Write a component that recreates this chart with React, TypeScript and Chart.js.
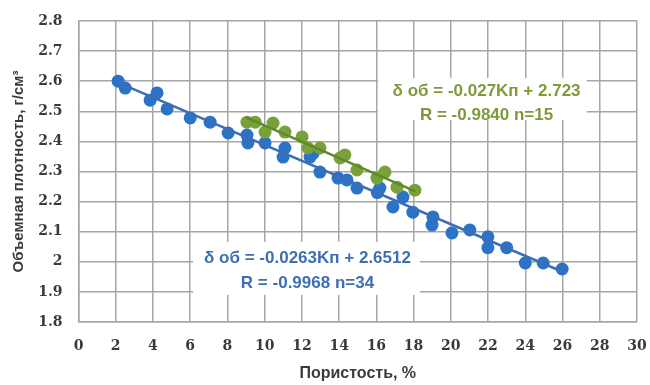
import React, { useEffect, useRef } from "react";
import { Chart, registerables } from "chart.js";

Chart.register(...registerables);

// Blue series (n=34)
const blueX = [2.13, 2.51, 3.85, 4.22, 4.76, 6.0, 7.07, 8.04, 9.05, 9.1, 10.02, 11.09, 10.99, 12.44, 12.6, 12.97, 13.94, 14.42, 14.96, 16.05, 16.19, 16.89, 17.43, 17.96, 19.04, 18.99, 20.06, 21.02, 21.99, 21.99, 23.0, 24.0, 24.96, 25.98];
const blueY = [2.60, 2.577, 2.537, 2.561, 2.508, 2.478, 2.464, 2.428, 2.421, 2.395, 2.395, 2.378, 2.348, 2.348, 2.36, 2.298, 2.278, 2.272, 2.245, 2.23, 2.245, 2.182, 2.215, 2.165, 2.149, 2.122, 2.096, 2.106, 2.083, 2.047, 2.047, 1.996, 1.996, 1.976];

// Green series (n=15)
const greenX = [9.05, 9.49, 10.02, 10.45, 11.09, 12.01, 12.33, 12.97, 14.05, 14.31, 14.96, 16.03, 16.46, 17.11, 18.07];
const greenY = [2.464, 2.464, 2.431, 2.461, 2.431, 2.415, 2.378, 2.378, 2.345, 2.355, 2.305, 2.278, 2.298, 2.248, 2.238];

// Trendline endpoints
const blueLineX = [2.1, 26.0];
const blueLineY = [2.596, 1.967];
const greenLineX = [9.0, 18.1];
const greenLineY = [2.48, 2.234];

const greenLabel = ["δ об = -0.027Kп + 2.723", "R = -0.9840 n=15"];
const blueLabel = ["δ об = -0.0263Kп + 2.6512", "R = -0.9968 n=34"];

const xTitle = "Пористость, %";
const yTitle = "Объемная плотность, г/см³";

const BLUE = "#2b73c6";
const BLUE_LINE = "#3f6db5";
const GREEN = "#79a13a";
const GREEN_LINE = "#5f8a2a";
const GREEN_TEXT = "#7f9a3c";
const BLUE_TEXT = "#3e6fb3";
const GRID = "#a6a6a6";
const TEXT = "#3a3a3a";

const zip = (xs: number[], ys: number[]) => xs.map((x, i) => ({ x, y: ys[i] }));

const labelPlugin = {
  id: "eqLabels",
  beforeDatasetsDraw(chart: any) {
    const { ctx, scales } = chart;
    const xs = scales.x;
    const ys = scales.y;
    const drawBox = (
      x0: number, x1: number, y0: number, y1: number,
      lines: string[], color: string,
      cx: number, cy: number[]
    ) => {
      const px0 = xs.getPixelForValue(x0);
      const px1 = xs.getPixelForValue(x1);
      const py0 = ys.getPixelForValue(y0);
      const py1 = ys.getPixelForValue(y1);
      ctx.save();
      ctx.fillStyle = "#ffffff";
      ctx.fillRect(px0, py0, px1 - px0, py1 - py0);
      ctx.fillStyle = color;
      ctx.font = "bold 17px 'Liberation Sans', Arial, sans-serif";
      ctx.textAlign = "center";
      ctx.textBaseline = "middle";
      lines.forEach((t, i) => {
        ctx.fillText(t, xs.getPixelForValue(cx), ys.getPixelForValue(cy[i]));
      });
      ctx.restore();
    };
    drawBox(16.09, 27.3, 2.611, 2.471, greenLabel, GREEN_TEXT, 21.92, [2.565, 2.488]);
    drawBox(6.16, 18.34, 2.066, 1.89, blueLabel, BLUE_TEXT, 12.3, [2.012, 1.929]);
  },
};

export default function App() {
  const ref = useRef<HTMLCanvasElement>(null);
  useEffect(() => {
    if (!ref.current) return;
    const chart = new Chart(ref.current, {
      type: "scatter",
      data: {
        datasets: [
          {
            label: "blueLine",
            data: zip(blueLineX, blueLineY),
            showLine: true,
            borderColor: BLUE_LINE,
            borderWidth: 2.5,
            pointRadius: 0,
            order: 0,
          },
          {
            label: "greenLine",
            data: zip(greenLineX, greenLineY),
            showLine: true,
            borderColor: GREEN_LINE,
            borderWidth: 2.5,
            pointRadius: 0,
            order: 1,
          },
          {
            label: "green",
            data: zip(greenX, greenY),
            backgroundColor: GREEN,
            borderColor: GREEN,
            pointRadius: 6.5,
            borderWidth: 0,
            order: 2,
          },
          {
            label: "blue",
            data: zip(blueX, blueY),
            backgroundColor: BLUE,
            borderColor: BLUE,
            pointRadius: 6.5,
            borderWidth: 0,
            order: 3,
          },
        ],
      },
      options: {
        animation: false,
        responsive: false,
        maintainAspectRatio: false,
        layout: { padding: { top: 21, right: 13, left: 0, bottom: 0 } },
        plugins: { legend: { display: false }, tooltip: { enabled: false } },
        scales: {
          x: {
            type: "linear",
            min: 0,
            max: 30,
            afterFit: (s: any) => {
              s.height = 63;
              s.paddingLeft = 0;
              s.paddingRight = 0;
            },
            ticks: {
              stepSize: 2,
              padding: 16,
              color: TEXT,
              font: { family: "'DejaVu Serif', serif", weight: "bold", size: 14 },
            },
            grid: { color: GRID, lineWidth: 1.5, drawTicks: false },
            border: { color: GRID, width: 1.5 },
            title: {
              display: true,
              text: xTitle,
              color: TEXT,
              padding: { top: 0, bottom: 2 },
              font: { family: "'Liberation Sans', Arial, sans-serif", weight: "bold", size: 16 },
            },
          },
          y: {
            type: "linear",
            min: 1.8,
            max: 2.8,
            afterFit: (s: any) => {
              s.width = 78.5;
              s.paddingTop = 0;
              s.paddingBottom = 0;
            },
            ticks: {
              stepSize: 0.1,
              padding: 16,
              color: TEXT,
              font: { family: "'DejaVu Serif', serif", weight: "bold", size: 14 },
              callback: (v: any) => String(parseFloat(Number(v).toFixed(1))),
            },
            grid: { color: GRID, lineWidth: 1.5, drawTicks: false },
            border: { color: GRID, width: 1.5 },
            title: {
              display: true,
              text: yTitle,
              color: TEXT,
              padding: { top: 9.5, bottom: 0 },
              font: { family: "'Liberation Sans', Arial, sans-serif", weight: "bold", size: 15 },
            },
          },
        },
      },
      plugins: [labelPlugin],
    } as any);
    return () => chart.destroy();
  }, []);
  return (
    <div style={{ position: "fixed", left: 0, top: 0, width: 650, height: 385, background: "#fff" }}>
      <canvas ref={ref} width={650} height={385} style={{ display: "block" }} />
    </div>
  );
}
